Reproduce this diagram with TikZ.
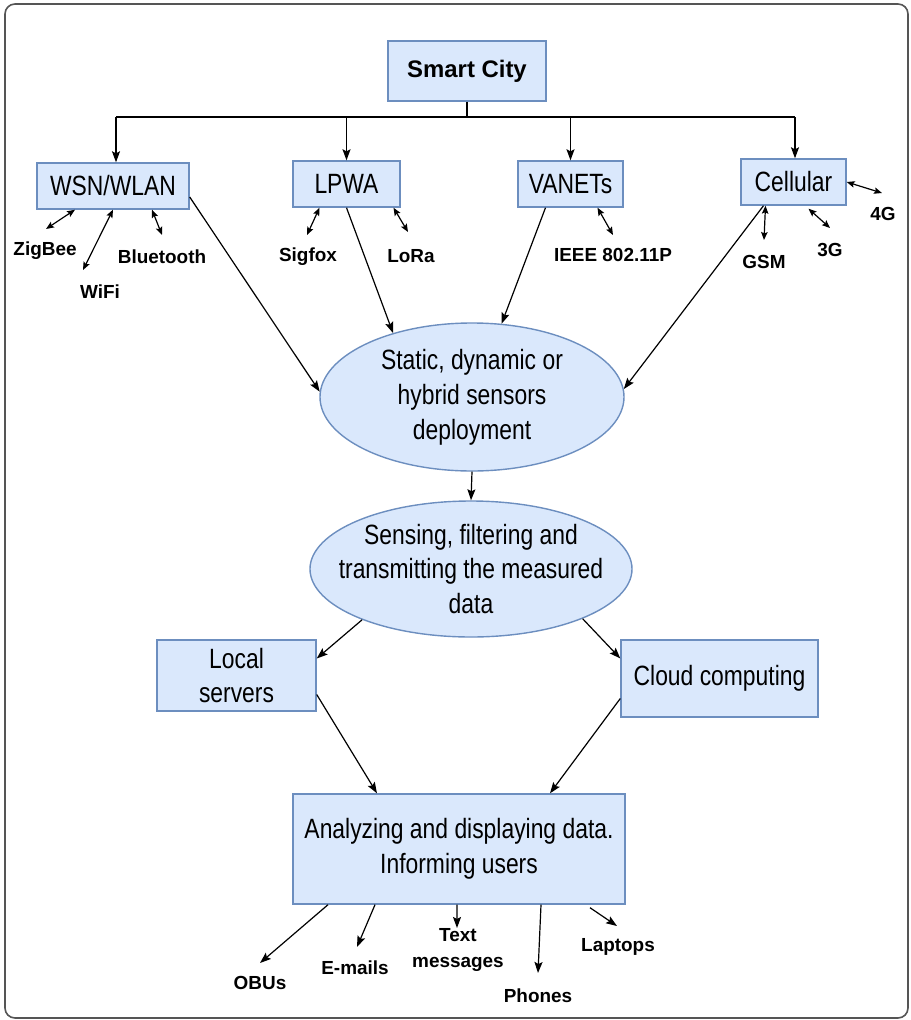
\documentclass[tikz,border=0pt]{standalone}
\usepackage{fontspec}
\setmainfont{Liberation Sans}
\newfontfamily\boxfont[FakeStretch=0.82]{Liberation Sans}
\usetikzlibrary{arrows.meta,shapes.geometric}

\definecolor{boxfill}{HTML}{DAE8FC}
\definecolor{boxline}{HTML}{6C8EBF}
\definecolor{framecol}{HTML}{555555}

\tikzset{
  blockbox/.style={draw=boxline, fill=boxfill, line width=1.4bp, inner sep=0pt,
    font=\boxfont\fontsize{28}{35}\selectfont, align=center},
  % the oval is sized by its minimum width/height only; its text sits on top as a centred label
  ovalbox/.style={ellipse, draw=boxline, fill=boxfill, line width=1.4bp, inner sep=0pt},
  ovaltext/.style={inner sep=0pt, font=\boxfont\fontsize{28}{35}\selectfont, align=center},
  tag/.style={inner sep=0pt, font=\bfseries\fontsize{19}{24}\selectfont, align=center},
  link/.style={line width=1.2bp, -{Stealth[length=11bp,width=8bp,inset=2bp]}},
  plainlink/.style={line width=1.2bp},
  twoway/.style={line width=1.2bp,
    {Stealth[length=8bp,width=6.5bp,inset=1.5bp]}-{Stealth[length=8bp,width=6.5bp,inset=1.5bp]}},
}

\begin{document}
\begin{tikzpicture}[x=1bp, y=-1bp]
  \useasboundingbox (0,0) rectangle (911,1020);
  % outer frame
  \draw[framecol, line width=1.6bp, rounded corners=10bp] (5,4) rectangle (908,1018);

  % top of the hierarchy
  \node[blockbox, minimum width=158bp, minimum height=60bp,
        font=\bfseries\fontsize{24}{28}\selectfont] (city) at (467,71) {Smart City};

  % network technologies
  \node[blockbox, minimum width=152bp, minimum height=46bp] (wsn)   at (113,186)   {WSN/WLAN};
  \node[blockbox, minimum width=107bp, minimum height=46bp] (lpwa)  at (346.5,184) {LPWA};
  \node[blockbox, minimum width=105bp, minimum height=46bp] (vanet) at (570.5,184) {VANETs};
  \node[blockbox, minimum width=105bp, minimum height=46bp] (cell)  at (793.5,182) {Cellular};

  % bus from Smart City to the four technologies
  \coordinate (busL) at (116,117);
  \coordinate (busR) at (795,117);
  \draw[plainlink] (city.south) -- (city.south |- busL);
  \draw[plainlink] (busL) -- (busR);
  \draw[link] (busL) -- (busL |- wsn.north);
  \draw[link] (lpwa.north |- busL) -- (lpwa.north);
  \draw[link] (vanet.north |- busL) -- (vanet.north);
  \draw[link] (busR) -- (busR |- cell.north);

  % protocol labels
  \node[tag] (zigbee) at (45,251)  {ZigBee};
  \node[tag] (wifi)   at (100,292) {WiFi};
  \node[tag] (bt)     at (162,257) {Bluetooth};
  \node[tag] (sigfox) at (308,257) {Sigfox};
  \node[tag] (lora)   at (411,256) {LoRa};
  \node[tag] (ieee)   at (613,255) {IEEE 802.11P};
  \node[tag] (gsm)    at (764,262) {GSM};
  \node[tag] (g3)     at (830,250) {3G};
  \node[tag] (g4)     at (883,214) {4G};

  \coordinate (zigbeeEnd) at (46,229);
  \coordinate (wifiEnd)   at (83,270);
  \coordinate (btEnd)     at (162,235);
  \coordinate (sigfoxEnd) at (307,235);
  \coordinate (loraEnd)   at (408,232);
  \coordinate (ieeeEnd)   at (613,235);
  \coordinate (gsmEnd)    at (764,240);
  \coordinate (g3End)     at (830,228);
  \coordinate (g4End)     at (882,193);

  \draw[twoway] ([xshift=-38bp]wsn.south) -- (zigbeeEnd);
  \draw[twoway] (wsn.south) -- (wifiEnd);
  \draw[twoway] ([xshift=39bp]wsn.south) -- (btEnd);
  \draw[twoway] ([xshift=-27bp]lpwa.south) -- (sigfoxEnd);
  \draw[twoway] ([xshift=47bp]lpwa.south) -- (loraEnd);
  \draw[twoway] ([xshift=27bp]vanet.south) -- (ieeeEnd);
  \draw[twoway] ([xshift=-28bp]cell.south) -- (gsmEnd);
  \draw[twoway] ([xshift=15bp,yshift=-3bp]cell.south) -- (g3End);
  \draw[twoway] (cell.east) -- (g4End);

  % processing stages
  \node[ovalbox, minimum width=304bp, minimum height=148bp,
        label={[ovaltext]center:Static, dynamic or\\hybrid sensors\\deployment}] (deploy) at (472,397) {};
  \node[ovalbox, minimum width=322bp, minimum height=136bp,
        label={[ovaltext]center:Sensing, filtering and\\transmitting the measured\\data}] (sense) at (471,569) {};

  \draw[link] ([yshift=-11bp]wsn.east) -- (deploy.178);
  \draw[link] (lpwa.south) -- (deploy.141);
  \draw[link] ([xshift=-25bp]vanet.south) -- (deploy.68);
  \draw[link] ([xshift=-30bp]cell.south) -- (deploy.3);
  \draw[link] (deploy.south) -- (sense.north);

  % storage and computation
  \node[blockbox, minimum width=159bp, minimum height=71bp] (local) at (236.5,675.5)
    {Local\\servers};
  \node[blockbox, minimum width=197bp, minimum height=77bp] (cloud) at (719.5,678.5)
    {Cloud computing};

  \draw[link] (sense.205.5) -- ([yshift=17bp]local.east);
  \draw[link] (sense.-24) -- ([yshift=20bp]cloud.west);

  % analysis and output
  \node[blockbox, minimum width=332bp, minimum height=110bp] (out) at (459,849)
    {Analyzing and displaying data.\\Informing users};

  \draw[link] ([yshift=-19bp]local.east) -- ([xshift=-82bp]out.north);
  \draw[link] ([yshift=-20bp]cloud.west) -- ([xshift=91bp]out.north);

  % delivery channels
  \node[tag] (obu)    at (260,983) {OBUs};
  \node[tag] (mail)   at (355,968) {E-mails};
  \node[tag, font=\bfseries\fontsize{19}{27}\selectfont] (sms) at (458,950) {Text\\messages};
  \node[tag] (phone)  at (538,996) {Phones};
  \node[tag] (laptop) at (618,947) {Laptops};

  \coordinate (obuEnd)    at (260,963);
  \coordinate (mailEnd)   at (357,947);
  \coordinate (smsEnd)    at (457,928);
  \coordinate (phoneEnd)  at (538,973);
  \coordinate (laptopEnd) at (617,926);

  \draw[link] ([xshift=-131bp]out.south) -- (obuEnd);
  \draw[link] ([xshift=-84bp]out.south) -- (mailEnd);
  \draw[link] ([xshift=-2bp]out.south) -- (smsEnd);
  \draw[link] ([xshift=82bp]out.south) -- (phoneEnd);
  \draw[link] ([xshift=131bp,yshift=-3bp]out.south) -- (laptopEnd);
\end{tikzpicture}
\end{document}
